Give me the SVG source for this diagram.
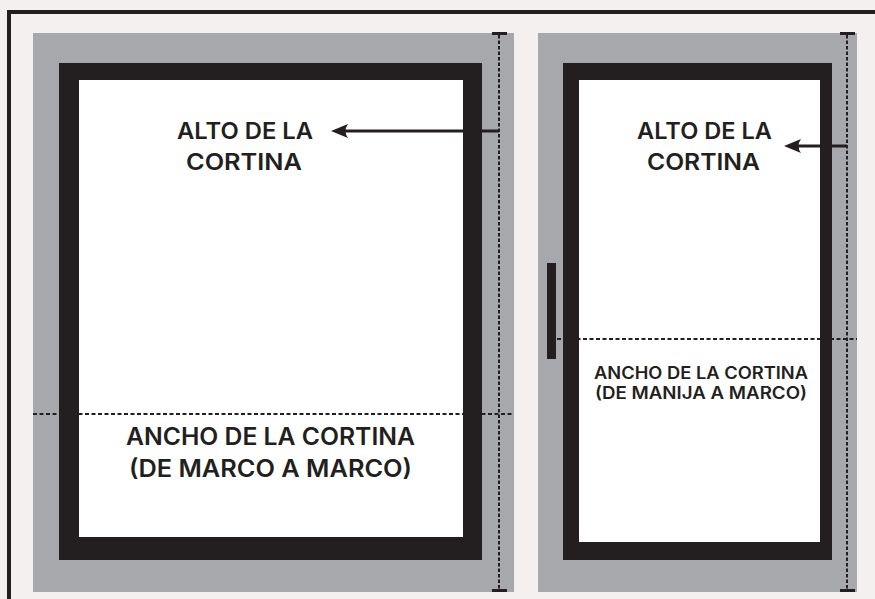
<svg xmlns="http://www.w3.org/2000/svg" width="875" height="599" viewBox="0 0 875 599">
<style>
.bg{fill:#f3f0ef}
.wall{fill:#a7a8ab}
.frame{fill:#231f20}
.glass{fill:#ffffff}
.dashv{stroke:#231f20;stroke-width:2;stroke-dasharray:3.5 2;fill:none}
.dashh{stroke:#231f20;stroke-width:1.8;stroke-dasharray:4 2.5;fill:none}
.cap{stroke:#231f20;stroke-width:3;fill:none}
.arrow{stroke:#231f20;stroke-width:3;fill:none}
.head{fill:#231f20}
text{font-family:"Inter","Liberation Sans",Arial,sans-serif;font-weight:600;fill:#231f20;text-anchor:middle}
.big{font-size:23px}
.mid{font-size:24px}
.sm{font-size:17px}
</style>
<rect class="bg" x="0" y="0" width="875" height="599"/>
<rect x="9" y="12" width="900" height="700" fill="none" stroke="#231f20" stroke-width="4"/>
<g id="window-left">
<rect class="wall" x="33" y="33" width="481" height="559"/>
<rect class="frame" x="59" y="63" width="423" height="497"/>
<rect class="glass" x="79" y="80" width="384" height="457"/>
</g>
<g id="window-right">
<rect class="wall" x="538" y="33" width="319" height="559"/>
<rect class="frame" x="563" y="63" width="269" height="497"/>
<rect class="glass" x="579" y="80" width="241" height="462"/>
</g>
<g id="connectors">
<line class="dashh" x1="33" y1="414" x2="514" y2="414"/>
<line class="dashh" x1="557" y1="339" x2="857" y2="339"/>
<line class="dashv" x1="499" y1="35" x2="499" y2="589"/>
<line class="cap" x1="492" y1="33.5" x2="507" y2="33.5"/>
<line class="cap" x1="492" y1="590.5" x2="507" y2="590.5"/>
<line class="dashv" x1="847" y1="35" x2="847" y2="589"/>
<line class="cap" x1="840" y1="33.5" x2="855" y2="33.5"/>
<line class="cap" x1="840" y1="590.5" x2="855" y2="590.5"/>
<line class="arrow" x1="499" y1="131" x2="343" y2="131"/>
<path class="head" d="M331,131 L348,124 Q343,131 348,138 Z"/>
<line class="arrow" x1="847" y1="146" x2="796" y2="146"/>
<path class="head" d="M784,146 L801,139 Q796,146 801,153 Z"/>
</g>
<g id="handle">
<rect class="frame" x="547" y="263" width="9" height="96"/>
</g>
<g id="label-alto-left">
<text class="big" x="245" y="139" textLength="136" lengthAdjust="spacingAndGlyphs">ALTO DE LA</text>
<text class="big" x="244" y="170" textLength="116" lengthAdjust="spacingAndGlyphs">CORTINA</text>
</g>
<g id="label-alto-right">
<text class="big" x="704.5" y="139" textLength="135" lengthAdjust="spacingAndGlyphs">ALTO DE LA</text>
<text class="big" x="703.5" y="170" textLength="113" lengthAdjust="spacingAndGlyphs">CORTINA</text>
</g>
<g id="label-ancho-left">
<text class="mid" x="270.5" y="445" textLength="289" lengthAdjust="spacingAndGlyphs">ANCHO DE LA CORTINA</text>
<text class="mid" x="270.5" y="477" textLength="283" lengthAdjust="spacingAndGlyphs">(DE MARCO A MARCO)</text>
</g>
<g id="label-ancho-right">
<text class="sm" x="701" y="379" textLength="214" lengthAdjust="spacingAndGlyphs">ANCHO DE LA CORTINA</text>
<text class="sm" x="701" y="399" textLength="212" lengthAdjust="spacingAndGlyphs">(DE MANIJA A MARCO)</text>
</g>
</svg>
